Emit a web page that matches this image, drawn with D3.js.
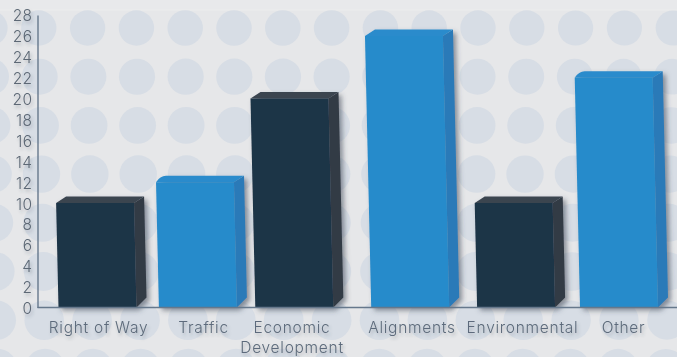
<!DOCTYPE html>
<html><head><meta charset="utf-8">
<script src="https://cdn.jsdelivr.net/npm/d3@7"></script>
<style>
html,body{margin:0;padding:0;background:#e6e7e9;overflow:hidden}
svg{display:block}
text{font-family:Inter,"Open Sans",sans-serif}
</style></head><body>
<svg id="c" width="677" height="357"></svg>
<script>
const categories = ["Right of Way","Traffic","Economic Development","Alignments","Environmental","Other"];
const values = [10,12,20,26,10,22];
const seriesKind = ["dark","blue","dark","blue","dark","blue"];
const yTicks = d3.range(0,29,2);

const W=677,H=357,axisX=37.5,baseY=307.5,topY=15;
const svg=d3.select("#c");
const defs=svg.append("defs");
const sh=(id,dx,dy,b,op)=>{const f=defs.append("filter").attr("id",id).attr("x","-30%").attr("y","-30%").attr("width","170%").attr("height","170%");
  f.append("feDropShadow").attr("dx",dx).attr("dy",dy).attr("stdDeviation",b).attr("flood-color","#3a4552").attr("flood-opacity",op);};
sh("barShadow",3,3,2.5,.55); sh("textShadow",1.5,2.5,1.5,.3);

// backdrop of discs
svg.append("rect").attr("width",W).attr("height",H).attr("fill","#e6e7e9");
svg.append("rect").attr("width",W).attr("height",10).attr("fill","#e8e9eb");
svg.append("line").attr("x1",0).attr("x2",W).attr("y1",10).attr("y2",10).attr("stroke","#eceded");
const rows=d3.range(0,8), cols=d3.range(0,15);
svg.append("g").selectAll("circle").data(d3.cross(rows,cols)).join("circle")
  .attr("cx",d=>-10+48.8*d[1]+(d[1]-7)*d[0]*-0.15)
  .attr("cy",d=>28+48.7*d[0])
  .attr("r",d=>17.8+d[0]*.35-Math.abs(d[1]-6)*0.03)
  .attr("fill","#d7dde5");

const x=d3.scaleBand().domain(categories).range([58.5,658.5]).paddingInner(0.253).paddingOuter(0);
const y=d3.scaleLinear().domain([0,28]).range([baseY,topY]);
// hand-placed slots of the original layout, relative to an even band
const barShift={"Right of Way":0,"Traffic":-4,"Economic Development":-12,"Alignments":-0.5,"Environmental":1,"Other":-0.5};
const labelX={"Right of Way":98,"Traffic":203,"Economic Development":291.5,"Alignments":411.5,"Environmental":522,"Other":623};
const skew=0.023, depthX=10, depthY=6.5;
const pal={dark:{face:"#1f3447",side:"#323a44",top:"#3a4450"},blue:{face:"#288bcb",side:"#2a7ab8",top:"#2a8bcc"}};
const softCorner=new Set(["Traffic","Other"]);

const bars=svg.append("g").selectAll("g").data(categories.map((c,i)=>({c,v:values[i],k:seriesKind[i]}))).join("g").attr("filter","url(#barShadow)");
const geom=d=>{const w=x.bandwidth(),bl=x(d.c)+barShift[d.c],t=y(d.v),s=(baseY-t)*skew;return {bl,br:bl+w,tl:bl-s,tr:bl+w-s,t};};
bars.append("path").attr("fill",d=>pal[d.k].side).attr("d",d=>{const g=geom(d);
  return `M${g.tr},${g.t}L${g.tr+depthX},${g.t-depthY}L${g.br+depthX},${baseY-depthY-3.5}L${g.br},${baseY}Z`;});
bars.append("path").attr("fill",d=>pal[d.k].top).attr("d",d=>{const g=geom(d);
  return softCorner.has(d.c)
   ? `M${g.tl},${g.t}Q${g.tl+4},${g.t-depthY} ${g.tl+depthX},${g.t-depthY}L${g.tr+depthX},${g.t-depthY}L${g.tr},${g.t}Z`
   : `M${g.tl},${g.t}L${g.tl+depthX},${g.t-depthY}L${g.tr+depthX},${g.t-depthY}L${g.tr},${g.t}Z`;});
bars.append("path").attr("fill",d=>pal[d.k].face).attr("d",d=>{const g=geom(d);
  return `M${g.tl},${g.t}L${g.tr},${g.t}L${g.br},${baseY}L${g.bl},${baseY}Z`;});

// axes
const yAxis=svg.append("g").attr("transform",`translate(${axisX},0)`).call(d3.axisLeft(y).tickValues(yTicks).tickSize(0).tickPadding(5));
yAxis.select(".domain").attr("stroke","#66788c").attr("stroke-width",1.4);
yAxis.selectAll("text").attr("font-size",15.5).attr("letter-spacing",0.4).attr("fill","#5d6875").attr("font-family","Inter").attr("font-weight",300).attr("filter","url(#textShadow)").attr("transform","translate(0,1)");

const xAxis=svg.append("g").attr("transform",`translate(0,${baseY})`).call(d3.axisBottom(d3.scaleOrdinal().domain(categories).range(categories.map(c=>labelX[c]))).tickSize(0));
xAxis.select(".domain").remove();
svg.append("line").attr("x1",axisX).attr("x2",W).attr("y1",baseY).attr("y2",baseY).attr("stroke","#66788c").attr("stroke-width",1.4);
xAxis.selectAll("text").attr("font-size",15.5).attr("letter-spacing",0.72).attr("font-weight",300).attr("fill","#5d6b7b").attr("font-family","Inter").attr("filter","url(#textShadow)").attr("y",0).attr("dy",0)
  .each(function(c){const t=d3.select(this);t.text(null);
    const parts=c==="Economic Development"?["Economic","Development"]:[c];
    parts.forEach((p,i)=>t.append("tspan").attr("x",0).attr("y",25.5+i*20).text(p));});
</script>
</body></html>
